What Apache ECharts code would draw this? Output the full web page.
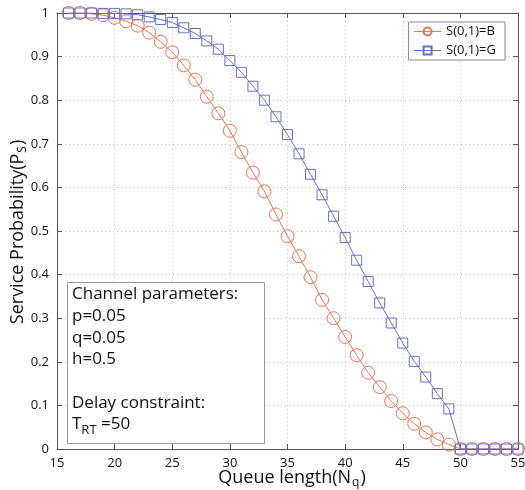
<!DOCTYPE html>
<html><head><meta charset="utf-8">
<script src="https://cdn.jsdelivr.net/npm/echarts@6/dist/echarts.min.js"></script>
<style>html,body{margin:0;padding:0;background:#fff}#c{width:525px;height:490px}</style>
</head><body><div id="c"></div>
<script>
const queueLength = [16,17,18,19,20,21,22,23,24,25,26,27,28,29,30,31,32,33,34,35,36,37,38,39,40,41,42,43,44,45,46,47,48,49,50,51,52,53,54,55];
const probB = [1.0,1.0,0.998,0.995,0.989,0.981,0.971,0.955,0.934,0.910,0.880,0.847,0.808,0.770,0.730,0.681,0.634,0.591,0.538,0.488,0.442,0.394,0.342,0.300,0.257,0.215,0.175,0.142,0.110,0.082,0.058,0.038,0.022,0.010,0,0,0,0,0,0];
const probG = [1.0,1.0,1.0,0.999,0.999,0.998,0.996,0.991,0.985,0.978,0.966,0.953,0.936,0.917,0.891,0.864,0.832,0.800,0.762,0.721,0.677,0.630,0.583,0.534,0.485,0.433,0.384,0.335,0.289,0.243,0.201,0.165,0.127,0.092,0,0,0,0,0,0];
const seriesNames = ['S(0,1)=B','S(0,1)=G'];
const boxLines = ['Channel parameters:','p=0.05','q=0.05','h=0.5','','Delay constraint:'];
const xTitle = ['Queue length(N', 'q', ')'];
const yTitle = ['Service Probability(P', 'S', ')'];

const FONT = 'Open Sans';
const RED = '#f2704f', BLUE = '#6470c2';
const chart = echarts.init(document.getElementById('c'));
const gridLine = {show:true, lineStyle:{color:'#c8c8c8', type:[1,3], width:1}};
const tickIn = {show:true, inside:true, length:5, lineStyle:{color:'#555'}};
const axLine = {show:true, onZero:false, lineStyle:{color:'#555', width:1}};
function pairs(ys){ return queueLength.map((x,i)=>[x, ys[i]]); }

const titleRich = {
  a:{fontSize:18, fontFamily:FONT, fill:'#111', lineHeight:22},
  b:{fontSize:12, fontFamily:FONT, fill:'#111', padding:[9,1,0,1]}
};
const graphicEls = [{
  type:'rect', left:67, top:282, shape:{width:197, height:161},
  style:{fill:'#fff', stroke:'#999', lineWidth:1}, z:100
},{
  type:'text', x:292, y:478, z:50,
  style:{text:'{a|'+xTitle[0]+'}{b|'+xTitle[1]+'}{a|'+xTitle[2]+'}', rich:titleRich, align:'center', verticalAlign:'middle'}
},{
  type:'text', x:18, y:232, rotation:Math.PI/2, z:50,
  style:{text:'{a|'+yTitle[0]+'}{b|'+yTitle[1]+'}{a|'+yTitle[2]+'}', rich:titleRich, align:'center', verticalAlign:'middle'}
}];
boxLines.forEach((t,i)=>{
  if(!t) return;
  graphicEls.push({type:'text', left:72, top:286 + i*21.7, z:101,
    style:{text:t, font:'17px "'+FONT+'"', fill:'#111'}});
});
graphicEls.push({type:'text', left:72, top:416, z:101,
  style:{text:'{t|T}{s|RT}{t| =50}', rich:{t:{fontSize:17, fontFamily:FONT, fill:'#111', lineHeight:20}, s:{fontSize:13, fontFamily:FONT, fill:'#111', padding:[12,0,0,0]}}}});

chart.setOption({
  animation:false,
  textStyle:{fontFamily:FONT},
  grid:{left:57, right:7, top:13, bottom:41, containLabel:false, outerBoundsMode:'none'},
  legend:{
    data:seriesNames, orient:'vertical', right:20, top:22,
    itemWidth:27, itemHeight:10, itemGap:6,
    lineStyle:{width:1},
    backgroundColor:'#fff', borderColor:'#888', borderWidth:1, padding:[3,9,3,5],
    textStyle:{fontSize:13, color:'#111', fontFamily:FONT}
  },
  xAxis:[{
    type:'value', min:15, max:55, interval:5,
    axisLine:axLine, axisTick:tickIn, splitLine:gridLine,
    axisLabel:{fontSize:13, color:'#111', margin:8}
  },{
    type:'value', min:15, max:55, interval:5, position:'top',
    axisLine:axLine, axisTick:tickIn, axisLabel:{show:false}, splitLine:{show:false}
  }],
  yAxis:[{
    type:'value', min:0, max:1, interval:0.1,
    axisLine:axLine, axisTick:tickIn, splitLine:gridLine,
    axisLabel:{fontSize:13, color:'#111', margin:8, formatter:v=>String(Math.round(v*10)/10)}
  },{
    type:'value', min:0, max:1, interval:0.1, position:'right',
    axisLine:axLine, axisTick:tickIn, axisLabel:{show:false}, splitLine:{show:false}
  }],
  series:[{
    name:seriesNames[0], type:'line', data:pairs(probB),
    symbol:'circle', symbolSize:13, showAllSymbol:true,
    lineStyle:{color:RED, width:1}, itemStyle:{color:'rgba(0,0,0,0)', borderColor:RED, borderWidth:1},
    z:3
  },{
    name:seriesNames[1], type:'line', data:pairs(probG),
    symbol:'rect', symbolSize:10, showAllSymbol:true,
    lineStyle:{color:BLUE, width:1}, itemStyle:{color:'rgba(0,0,0,0)', borderColor:BLUE, borderWidth:1},
    z:4
  }],
  graphic:graphicEls
});
</script></body></html>
